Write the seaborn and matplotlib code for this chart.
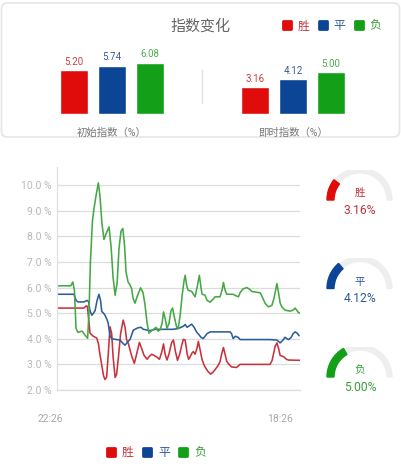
import numpy as np
import pandas as pd
import seaborn as sns
import matplotlib.pyplot as plt
from matplotlib.patches import Wedge, FancyBboxPatch
from matplotlib.lines import Line2D
from matplotlib.markers import MarkerStyle
from matplotlib.transforms import ScaledTranslation

sns.set_theme(style="white")
plt.rcParams['font.family'] = ['Roboto', 'Noto Sans CJK SC', 'DejaVu Sans']

# categories and bar values
outcomes = ['胜', '平', '负']
groups = ['初始指数（%）', '即时指数（%）']
initial_idx = [5.20, 5.74, 6.08]
live_idx = [3.16, 4.12, 5.00]

# line series: minutes since 22:26, index value in %
t_win = [0, 133, 143, 150, 156, 163, 179, 196, 205, 210, 221, 230, 237, 245, 254, 262, 270, 277,
         287, 294, 303, 314, 327, 336, 344, 353, 361, 370, 382, 393, 407, 419, 430, 445, 454,
         468, 479, 494, 506, 518, 526, 534, 543, 553, 566, 575, 585, 595, 606, 616, 624, 633,
         643, 650, 657, 667, 673, 682, 692, 698, 706, 716, 725, 731, 746, 759, 771, 781, 795,
         805, 813, 822, 830, 838, 850, 862, 887, 904, 953, 1003, 1052, 1062, 1069, 1077, 1086,
         1095, 1102, 1119, 1133, 1143, 1200]
win = [5.20, 5.20, 5.28, 5.27, 4.80, 4.22, 4.10, 4.03, 3.80, 3.49, 2.97, 2.55, 2.41, 2.50, 3.50,
       4.47, 4.20, 3.30, 2.49, 2.60, 3.25, 4.20, 4.73, 4.45, 3.95, 3.80, 3.55, 3.30, 3.04, 3.40,
       3.86, 3.60, 3.35, 3.20, 3.30, 3.40, 3.35, 3.28, 3.20, 3.50, 3.80, 3.40, 3.17, 3.40, 3.85,
       3.95, 3.50, 3.16, 3.40, 3.75, 3.98, 3.95, 3.40, 3.20, 3.29, 3.45, 3.50, 3.40, 3.65, 3.90,
       3.60, 3.20, 3.00, 2.90, 2.72, 2.62, 2.70, 2.80, 2.95, 3.10, 3.40, 3.66, 3.40, 3.12, 3.00,
       2.90, 2.88, 3.00, 3.00, 3.00, 3.00, 3.15, 3.40, 3.70, 3.84, 3.60, 3.35, 3.30, 3.20, 3.17,
       3.16]

t_draw = [0, 84, 94, 104, 133, 148, 156, 163, 172, 180, 188, 198, 207, 215, 221, 230, 237, 247,
          253, 262, 272, 287, 311, 326, 336, 346, 361, 377, 400, 415, 426, 440, 459, 484, 509,
          543, 573, 598, 624, 633, 642, 652, 665, 677, 689, 702, 712, 722, 731, 741, 756, 805,
          855, 862, 870, 881, 896, 904, 953, 1003, 1052, 1086, 1102, 1116, 1126, 1136, 1143,
          1156, 1166, 1176, 1186, 1196]
draw = [5.74, 5.74, 5.50, 5.44, 5.44, 5.50, 5.45, 5.10, 4.92, 5.00, 5.10, 5.50, 5.74, 5.50, 5.07,
        5.00, 4.92, 4.75, 4.60, 4.10, 4.00, 3.98, 3.95, 3.82, 3.75, 3.85, 3.98, 4.34, 4.43, 4.45,
        4.37, 4.35, 4.32, 4.37, 4.37, 4.37, 4.37, 4.40, 4.49, 4.56, 4.45, 4.50, 4.57, 4.45, 4.27,
        4.15, 4.05, 4.01, 4.10, 4.20, 4.27, 4.27, 4.27, 4.20, 4.01, 4.10, 4.05, 3.97, 3.97, 3.97,
        3.97, 3.95, 3.84, 3.95, 4.06, 4.00, 3.97, 4.05, 4.20, 4.27, 4.22, 4.12]

t_lose = [0, 68, 78, 86, 94, 104, 124, 133, 143, 151, 158, 165, 175, 183, 193, 204, 212, 222, 232,
          242, 257, 267, 277, 287, 297, 306, 316, 325, 334, 341, 351, 361, 369, 375, 385, 398,
          413, 425, 435, 445, 454, 464, 474, 489, 499, 509, 519, 526, 534, 543, 553, 563, 571,
          578, 591, 598, 608, 618, 628, 633, 640, 647, 665, 682, 694, 703, 711, 716, 731, 741,
          756, 771, 781, 805, 815, 822, 830, 838, 869, 884, 896, 904, 919, 937, 949, 962, 983,
          1003, 1013, 1028, 1044, 1061, 1072, 1086, 1094, 1102, 1110, 1126, 1151, 1166, 1176,
          1192, 1200]
lose = [6.07, 6.07, 6.22, 5.90, 4.40, 4.25, 4.30, 4.20, 4.10, 4.02, 5.00, 7.00, 8.60, 9.10, 9.60,
        10.09, 9.60, 8.50, 7.88, 8.10, 8.37, 7.60, 6.40, 5.70, 6.20, 7.50, 8.20, 8.31, 7.60, 6.60,
        6.22, 6.10, 5.95, 5.60, 5.39, 5.70, 5.99, 5.80, 5.30, 4.60, 4.22, 4.30, 4.35, 4.45, 4.30,
        4.35, 4.60, 5.05, 4.80, 4.40, 4.60, 5.10, 5.20, 4.90, 4.45, 4.40, 4.90, 5.70, 6.30, 6.48,
        6.10, 5.90, 5.85, 5.64, 6.10, 6.48, 6.00, 5.75, 5.70, 5.50, 5.43, 5.55, 5.64, 5.64, 5.90,
        6.20, 5.90, 5.74, 5.74, 5.68, 5.64, 5.80, 5.95, 6.00, 5.95, 5.85, 5.82, 5.80, 5.65, 5.38,
        5.25, 5.30, 5.60, 6.16, 5.80, 5.40, 5.25, 5.12, 5.08, 5.12, 5.20, 5.03, 5.00]

time_ticks = [0, 1102]
time_labels = ['22:26', '18:26']
y_ticks = [2, 3, 4, 5, 6, 7, 8, 9, 10]
gauge_max = 15.0

bar_colors = ['#e00b0b', '#0d4596', '#13a018']
label_colors = ['#c94040', '#3b5d8e', '#4fab4f']
line_colors = ['#c9323c', '#2d5e99', '#45a845']
text_colors = ['#c0303a', '#2c5a96', '#3c9c3c']

W, H = 402, 469
fig = plt.figure(figsize=(W / 100, H / 100), dpi=100)

# background canvas in pixel units (card outline)
bg = fig.add_axes([0, 0, 1, 1], zorder=-5)
bg.set_xlim(0, W)
bg.set_ylim(H, 0)
bg.axis('off')
bg.add_patch(FancyBboxPatch((1.5, 3), 398, 134, boxstyle='round,pad=0,rounding_size=6',
                            fc='white', ec='#e6e6e6', lw=1.2))

# ---- top bars ----
bar_df = pd.DataFrame({
    'group': [groups[0]] * 3 + [groups[1]] * 3,
    'outcome': outcomes * 2,
    'value': initial_idx + live_idx,
})
ax_bar = fig.add_axes([21.5 / W, 1 - 114 / H, 362 / W, 58.8 / H])
sns.barplot(data=bar_df, x='group', y='value', hue='outcome', palette=bar_colors,
            width=0.63, gap=0.26, legend=False, ax=ax_bar, saturation=1)
for cont, c in zip(ax_bar.containers, label_colors):
    ax_bar.bar_label(cont, fmt='%.2f', padding=2.5, fontsize=7, color=c)
ax_bar.set_xlim(-0.5, 1.5)
ax_bar.set_ylim(0, 7)
ax_bar.axvline(0.5, ymin=1.3 / 7, ymax=5.24 / 7, color='#e2e2e2', lw=1)
ax_bar.set_xlabel('')
ax_bar.set_ylabel('')
ax_bar.set_yticks([])
ax_bar.tick_params(axis='x', length=0, pad=10, labelsize=7.5, labelcolor='#777777')
for s in ax_bar.spines.values():
    s.set_visible(False)
ax_bar.patch.set_alpha(0)

fig.text(201 / W, 1 - 26 / H, '指数变化', ha='center', va='center', fontsize=10.8, color='#666666')


def square_handles(colors):
    ms = MarkerStyle('s', joinstyle='round')
    return [Line2D([], [], marker=ms, linestyle='none', markersize=5.5, markeredgewidth=2.0,
                   markerfacecolor=c, markeredgecolor=c) for c in colors]


leg1 = fig.legend(square_handles(bar_colors), outcomes, loc='center',
                  bbox_to_anchor=(332 / W, 1 - 26 / H), ncol=3, frameon=False, fontsize=8.5,
                  handlelength=0.7, handletextpad=0.55, columnspacing=0.8)
for t, c in zip(leg1.get_texts(), text_colors):
    t.set_color(c)

# ---- line chart ----
line_df = pd.concat([
    pd.DataFrame({'t': t_win, 'value': win, 'outcome': outcomes[0]}),
    pd.DataFrame({'t': t_draw, 'value': draw, 'outcome': outcomes[1]}),
    pd.DataFrame({'t': t_lose, 'value': lose, 'outcome': outcomes[2]}),
])
ax = fig.add_axes([57 / W, 1 - 390 / H, 243 / W, 223 / H])
sns.lineplot(data=line_df, x='t', y='value', hue='outcome', palette=line_colors,
             estimator=None, linewidth=1.15, legend=False, ax=ax)
ax.set_xlim(0, 1200)
ax.set_ylim(2, 2 + 223 / 25.6)
ax.set_yticks(y_ticks)
ax.set_yticklabels([f'{v:.1f} %' for v in y_ticks])
ax.set_xticks(time_ticks)
ax.set_xticklabels(time_labels)
ax.yaxis.grid(True, color='#dcdcdc', lw=0.9)
ax.xaxis.grid(False)
ax.set_xlabel('')
ax.set_ylabel('')
ax.tick_params(axis='y', length=0, pad=4, labelsize=7.5, labelcolor='#b8b8b8')
ax.tick_params(axis='x', length=0, pad=17, labelsize=7.5, labelcolor='#aaaaaa')
ax.xaxis.get_majorticklabels()[0].set_transform(
    ax.xaxis.get_majorticklabels()[0].get_transform() + ScaledTranslation(-0.07, 0, fig.dpi_scale_trans))
for k in ['top', 'right']:
    ax.spines[k].set_visible(False)
ax.spines['left'].set_color('#e0e0e0')
ax.spines['bottom'].set_color('#dcdcdc')
ax.spines['left'].set_linewidth(0.9)
ax.spines['bottom'].set_linewidth(0.9)

# ---- gauges ----
gauge_cy = [200, 288.5, 377]
for name, v, c, tc, cy in zip(outcomes, live_idx, bar_colors, text_colors, gauge_cy):
    g = fig.add_axes([(360 - 40) / W, 1 - (cy + 30) / H, 80 / W, 60 / H])
    g.set_xlim(-40, 40)
    g.set_ylim(-30, 30)
    g.axis('off')
    g.add_patch(Wedge((0, 0), 32, 0, 180, width=5, color='#eeeeee'))
    g.add_patch(Wedge((0, 0), 33, 180 - v / gauge_max * 180, 180, width=7, color=c))
    g.text(0, 7, name, ha='center', va='center', fontsize=7.5, color=tc)
    g.text(0, -10, f'{v:.2f}%', ha='center', va='center', fontsize=8.7, color=tc)

leg2 = fig.legend(square_handles(bar_colors), outcomes, loc='center',
                  bbox_to_anchor=(156.5 / W, 1 - 452.7 / H), ncol=3, frameon=False, fontsize=8.5,
                  handlelength=0.7, handletextpad=0.55, columnspacing=0.8)
for t, c in zip(leg2.get_texts(), text_colors):
    t.set_color(c)

fig.savefig('out.png', dpi=100)
